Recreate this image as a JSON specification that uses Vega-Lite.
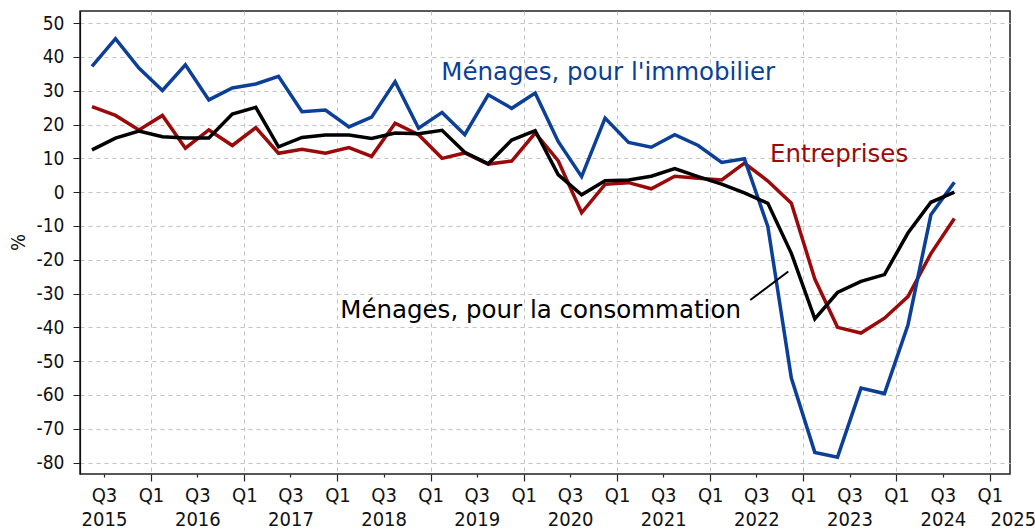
{
  "$schema": "https://vega.github.io/schema/vega-lite/v6.json",
  "width": 930,
  "height": 463,
  "autosize": "none",
  "padding": {"left": 80, "top": 11, "right": 25, "bottom": 57},
  "background": "white",
  "config": {
    "view": {"stroke": "#222", "strokeWidth": 1.5},
    "axis": {"labelFont": "Liberation Sans Narrow, DejaVu Sans Condensed, sans-serif", "labelColor": "#111", "titleFont": "Liberation Sans Narrow, DejaVu Sans Condensed, sans-serif", "titleColor": "#111", "titleFontWeight": "normal"}
  },
  "datasets": {
    "series": [
      {"d": "2015-05-15", "s": "ent", "v": 25.3},
      {"d": "2015-08-15", "s": "ent", "v": 22.7},
      {"d": "2015-11-15", "s": "ent", "v": 18.4},
      {"d": "2016-02-15", "s": "ent", "v": 22.7},
      {"d": "2016-05-15", "s": "ent", "v": 13.0},
      {"d": "2016-08-15", "s": "ent", "v": 18.4},
      {"d": "2016-11-15", "s": "ent", "v": 13.8},
      {"d": "2017-02-15", "s": "ent", "v": 19.1},
      {"d": "2017-05-15", "s": "ent", "v": 11.5},
      {"d": "2017-08-15", "s": "ent", "v": 12.7},
      {"d": "2017-11-15", "s": "ent", "v": 11.5},
      {"d": "2018-02-15", "s": "ent", "v": 13.2},
      {"d": "2018-05-15", "s": "ent", "v": 10.6},
      {"d": "2018-08-15", "s": "ent", "v": 20.4},
      {"d": "2018-11-15", "s": "ent", "v": 17.0},
      {"d": "2019-02-15", "s": "ent", "v": 10.0},
      {"d": "2019-05-15", "s": "ent", "v": 11.6},
      {"d": "2019-08-15", "s": "ent", "v": 8.3},
      {"d": "2019-11-15", "s": "ent", "v": 9.2},
      {"d": "2020-02-15", "s": "ent", "v": 17.5},
      {"d": "2020-05-15", "s": "ent", "v": 9.3},
      {"d": "2020-08-15", "s": "ent", "v": -6.1},
      {"d": "2020-11-15", "s": "ent", "v": 2.3},
      {"d": "2021-02-15", "s": "ent", "v": 2.8},
      {"d": "2021-05-15", "s": "ent", "v": 1.0},
      {"d": "2021-08-15", "s": "ent", "v": 4.7},
      {"d": "2021-11-15", "s": "ent", "v": 4.1},
      {"d": "2022-02-15", "s": "ent", "v": 3.6},
      {"d": "2022-05-15", "s": "ent", "v": 8.6},
      {"d": "2022-08-15", "s": "ent", "v": 3.3},
      {"d": "2022-11-15", "s": "ent", "v": -3.3},
      {"d": "2023-02-15", "s": "ent", "v": -25.7},
      {"d": "2023-05-15", "s": "ent", "v": -40.0},
      {"d": "2023-08-15", "s": "ent", "v": -41.7},
      {"d": "2023-11-15", "s": "ent", "v": -37.3},
      {"d": "2024-02-15", "s": "ent", "v": -30.9},
      {"d": "2024-05-15", "s": "ent", "v": -18.2},
      {"d": "2024-08-15", "s": "ent", "v": -7.8},
      {"d": "2015-05-15", "s": "immo", "v": 37.2},
      {"d": "2015-08-15", "s": "immo", "v": 45.4},
      {"d": "2015-11-15", "s": "immo", "v": 36.7},
      {"d": "2016-02-15", "s": "immo", "v": 30.1},
      {"d": "2016-05-15", "s": "immo", "v": 37.7},
      {"d": "2016-08-15", "s": "immo", "v": 27.3},
      {"d": "2016-11-15", "s": "immo", "v": 30.8},
      {"d": "2017-02-15", "s": "immo", "v": 32.0},
      {"d": "2017-05-15", "s": "immo", "v": 34.3},
      {"d": "2017-08-15", "s": "immo", "v": 23.8},
      {"d": "2017-11-15", "s": "immo", "v": 24.3},
      {"d": "2018-02-15", "s": "immo", "v": 19.3},
      {"d": "2018-05-15", "s": "immo", "v": 22.2},
      {"d": "2018-08-15", "s": "immo", "v": 32.7},
      {"d": "2018-11-15", "s": "immo", "v": 18.9},
      {"d": "2019-02-15", "s": "immo", "v": 23.6},
      {"d": "2019-05-15", "s": "immo", "v": 17.0},
      {"d": "2019-08-15", "s": "immo", "v": 28.8},
      {"d": "2019-11-15", "s": "immo", "v": 24.8},
      {"d": "2020-02-15", "s": "immo", "v": 29.3},
      {"d": "2020-05-15", "s": "immo", "v": 15.0},
      {"d": "2020-08-15", "s": "immo", "v": 4.6},
      {"d": "2020-11-15", "s": "immo", "v": 21.9},
      {"d": "2021-02-15", "s": "immo", "v": 14.7},
      {"d": "2021-05-15", "s": "immo", "v": 13.3},
      {"d": "2021-08-15", "s": "immo", "v": 17.0},
      {"d": "2021-11-15", "s": "immo", "v": 13.8},
      {"d": "2022-02-15", "s": "immo", "v": 8.8},
      {"d": "2022-05-15", "s": "immo", "v": 9.9},
      {"d": "2022-08-15", "s": "immo", "v": -10.2},
      {"d": "2022-11-15", "s": "immo", "v": -55.0},
      {"d": "2023-02-15", "s": "immo", "v": -77.0},
      {"d": "2023-05-15", "s": "immo", "v": -78.4},
      {"d": "2023-08-15", "s": "immo", "v": -58.0},
      {"d": "2023-11-15", "s": "immo", "v": -59.6},
      {"d": "2024-02-15", "s": "immo", "v": -39.3},
      {"d": "2024-05-15", "s": "immo", "v": -6.7},
      {"d": "2024-08-15", "s": "immo", "v": 2.9},
      {"d": "2015-05-15", "s": "conso", "v": 12.5},
      {"d": "2015-08-15", "s": "conso", "v": 16.0},
      {"d": "2015-11-15", "s": "conso", "v": 18.1},
      {"d": "2016-02-15", "s": "conso", "v": 16.4},
      {"d": "2016-05-15", "s": "conso", "v": 16.0},
      {"d": "2016-08-15", "s": "conso", "v": 16.0},
      {"d": "2016-11-15", "s": "conso", "v": 23.1},
      {"d": "2017-02-15", "s": "conso", "v": 25.1},
      {"d": "2017-05-15", "s": "conso", "v": 13.4},
      {"d": "2017-08-15", "s": "conso", "v": 16.2},
      {"d": "2017-11-15", "s": "conso", "v": 16.9},
      {"d": "2018-02-15", "s": "conso", "v": 16.9},
      {"d": "2018-05-15", "s": "conso", "v": 15.9},
      {"d": "2018-08-15", "s": "conso", "v": 17.5},
      {"d": "2018-11-15", "s": "conso", "v": 17.3},
      {"d": "2019-02-15", "s": "conso", "v": 18.3},
      {"d": "2019-05-15", "s": "conso", "v": 11.8},
      {"d": "2019-08-15", "s": "conso", "v": 8.4},
      {"d": "2019-11-15", "s": "conso", "v": 15.4},
      {"d": "2020-02-15", "s": "conso", "v": 18.2},
      {"d": "2020-05-15", "s": "conso", "v": 5.2},
      {"d": "2020-08-15", "s": "conso", "v": -0.8},
      {"d": "2020-11-15", "s": "conso", "v": 3.4},
      {"d": "2021-02-15", "s": "conso", "v": 3.6},
      {"d": "2021-05-15", "s": "conso", "v": 4.7},
      {"d": "2021-08-15", "s": "conso", "v": 7.0},
      {"d": "2021-11-15", "s": "conso", "v": 4.6},
      {"d": "2022-02-15", "s": "conso", "v": 2.4},
      {"d": "2022-05-15", "s": "conso", "v": -0.2},
      {"d": "2022-08-15", "s": "conso", "v": -3.3},
      {"d": "2022-11-15", "s": "conso", "v": -18.1},
      {"d": "2023-02-15", "s": "conso", "v": -37.5},
      {"d": "2023-05-15", "s": "conso", "v": -29.7},
      {"d": "2023-08-15", "s": "conso", "v": -26.4},
      {"d": "2023-11-15", "s": "conso", "v": -24.4},
      {"d": "2024-02-15", "s": "conso", "v": -12.1},
      {"d": "2024-05-15", "s": "conso", "v": -3.0},
      {"d": "2024-08-15", "s": "conso", "v": 0.0}
    ],
    "labels": [
      {"d": "2019-02-12", "s": "immo", "v": 35.3, "label": "Ménages, pour l'immobilier"},
      {"d": "2022-08-23", "s": "ent", "v": 11.0, "label": "Entreprises"},
      {"d": "2018-01-12", "s": "conso", "v": -35.3, "label": "Ménages, pour la consommation"}
    ],
    "pointer": [
      {"d": "2022-06-07", "d2": "2022-11-03", "v": -31.9, "v2": -23.5}
    ]
  },
  "resolve": {"axis": {"x": "independent", "y": "independent"}},
  "layer": [
    {
      "data": {"name": "series"},
      "mark": {"type": "line", "strokeWidth": 3.5, "strokeJoin": "miter", "strokeCap": "butt"},
      "encoding": {
        "x": {
          "field": "d", "type": "temporal",
          "scale": {"type": "utc", "domain": [{"year": 2015, "month": 3, "date": 29, "utc": true}, {"year": 2025, "month": 3, "date": 21, "utc": true}]},
          "axis": {
            "title": null, "domain": false, "orient": "bottom",
            "values": [
              {"year": 2016, "month": 1, "date": 1, "utc": true},
              {"year": 2017, "month": 1, "date": 1, "utc": true},
              {"year": 2018, "month": 1, "date": 1, "utc": true},
              {"year": 2019, "month": 1, "date": 1, "utc": true},
              {"year": 2020, "month": 1, "date": 1, "utc": true},
              {"year": 2021, "month": 1, "date": 1, "utc": true},
              {"year": 2022, "month": 1, "date": 1, "utc": true},
              {"year": 2023, "month": 1, "date": 1, "utc": true},
              {"year": 2024, "month": 1, "date": 1, "utc": true},
              {"year": 2025, "month": 1, "date": 1, "utc": true}
            ],
            "labelExpr": "'Q1'",
            "labelFontSize": 20, "labelOverlap": false, "labelFlush": false, "labelBound": false,
            "tickSize": 7, "tickColor": "#222", "tickWidth": 1.2, "labelPadding": 4,
            "grid": true, "gridDash": [4, 4], "gridColor": "#c4c4c4", "gridWidth": 1
          }
        },
        "y": {
          "field": "v", "type": "quantitative",
          "scale": {"domain": [-83.4, 53.6], "nice": false, "zero": false},
          "axis": {
            "title": "%", "titleFontSize": 20, "titleX": -62, "titleY": 231, "titleAngle": -90, "titleAlign": "center", "titleBaseline": "middle",
            "values": [-80, -70, -60, -50, -40, -30, -20, -10, 0, 10, 20, 30, 40, 50],
            "labelExpr": "'' + datum.value", "labelOverlap": false, "labelBound": false, "labelFlush": false,
            "labelFontSize": 19, "labelPadding": 9, "tickSize": 7, "tickColor": "#222", "domainColor": "#111", "domainWidth": 1.2,
            "grid": true, "gridDash": [4, 4], "gridColor": "#c4c4c4", "gridWidth": 1
          }
        },
        "color": {
          "field": "s", "type": "nominal", "legend": null,
          "scale": {"domain": ["immo", "ent", "conso"], "range": ["#0b3f98", "#9a0a0a", "#000000"]}
        }
      }
    },
    {
      "data": {"name": "labels"},
      "mark": {"type": "text", "align": "left", "baseline": "middle", "font": "DejaVu Sans", "fontSize": 24.5},
      "encoding": {
        "x": {
          "field": "d", "type": "temporal",
          "axis": {
            "title": null, "domain": false, "orient": "bottom", "grid": false,
            "values": [
              {"year": 2015, "month": 7, "date": 1, "utc": true},
              {"year": 2016, "month": 7, "date": 1, "utc": true},
              {"year": 2017, "month": 7, "date": 1, "utc": true},
              {"year": 2018, "month": 7, "date": 1, "utc": true},
              {"year": 2019, "month": 7, "date": 1, "utc": true},
              {"year": 2020, "month": 7, "date": 1, "utc": true},
              {"year": 2021, "month": 7, "date": 1, "utc": true},
              {"year": 2022, "month": 7, "date": 1, "utc": true},
              {"year": 2023, "month": 7, "date": 1, "utc": true},
              {"year": 2024, "month": 7, "date": 1, "utc": true}
            ],
            "labelExpr": "['Q3', utcFormat(datum.value, '%Y')]",
            "labelFontSize": 20, "labelLineHeight": 24, "labelOverlap": false, "labelFlush": false, "labelBound": false,
            "tickSize": 3, "tickColor": "#222", "tickWidth": 1.2, "labelPadding": 8
          }
        },
        "y": {"field": "v", "type": "quantitative", "axis": null},
        "text": {"field": "label"},
        "color": {"field": "s", "type": "nominal", "legend": null}
      }
    },
    {
      "data": {"name": "pointer"},
      "mark": {"type": "rule", "color": "#000", "strokeWidth": 2},
      "encoding": {
        "x": {
          "field": "d", "type": "temporal",
          "axis": {
            "title": null, "domain": false, "orient": "bottom", "grid": false, "ticks": false,
            "values": [{"year": 2025, "month": 1, "date": 1, "utc": true}],
            "labelExpr": "['', '2025']",
            "labelFontSize": 20, "labelLineHeight": 24, "labelOverlap": false, "labelFlush": false, "labelBound": false,
            "labelPadding": 11, "labelOffset": 23
          }
        },
        "x2": {"field": "d2"},
        "y": {"field": "v", "type": "quantitative", "axis": null},
        "y2": {"field": "v2"}
      }
    },
    {
      "mark": {"type": "rule", "color": "#000", "strokeWidth": 1.2},
      "encoding": {
        "y": {"datum": 0, "type": "quantitative", "axis": null}
      }
    }
  ]
}
